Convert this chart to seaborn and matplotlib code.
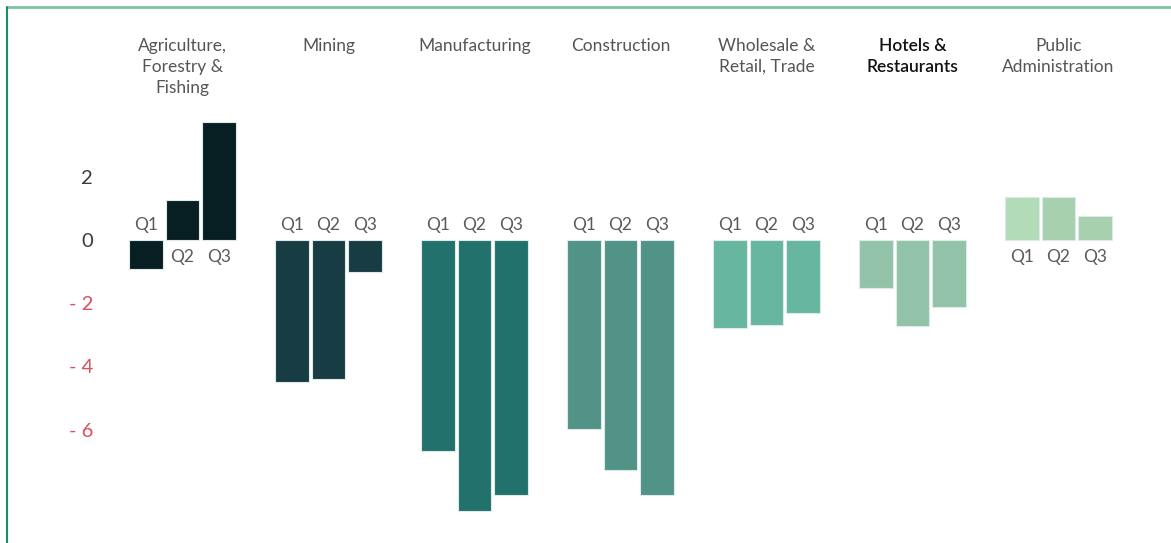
import matplotlib
matplotlib.use("Agg")
import matplotlib.pyplot as plt
from matplotlib.lines import Line2D
import pandas as pd
import seaborn as sns

# Quarterly change by sector
sectors = ["Agriculture,\nForestry &\nFishing", "Mining", "Manufacturing", "Construction",
           "Wholesale &\nRetail, Trade", "Hotels &\nRestaurants", "Public\nAdministration"]
quarters = ["Q1", "Q2", "Q3"]
q1 = [-0.92, -4.49, -6.68, -5.98, -2.78, -1.52, 1.36]
q2 = [1.27, -4.40, -8.58, -7.28, -2.69, -2.72, 1.36]
q3 = [3.73, -1.01, -8.07, -8.07, -2.31, -2.12, 0.76]

sector_colors = ["#071F22", "#173C44", "#22716D", "#529387", "#66B6A0", "#92C3A8", "#A6D0AE"]
public_q1_color = "#B2DCB8"

ytick_vals = [2, 0, -2, -4, -6]
ytick_text = ["2", "0", "- 2", "- 4", "- 6"]

rows = []
for i, sec in enumerate(sectors):
    for j, (q, v) in enumerate(zip(quarters, (q1[i], q2[i], q3[i]))):
        tone = f"s{i}"
        if i == len(sectors) - 1 and j == 0:
            tone = "public_q1"
        rows.append({"sector": sec, "quarter": q, "value": v, "pos": i * 4 + j, "tone": tone})
df = pd.DataFrame(rows)

palette = {f"s{i}": c for i, c in enumerate(sector_colors)}
palette["public_q1"] = public_q1_color

sns.set_theme(style="white")
plt.rcParams["font.family"] = ["Lato", "DejaVu Sans"]

W, H = 1171, 543
fig = plt.figure(figsize=(W / 100, H / 100), dpi=100)
ax_left_px = 100
ax = fig.add_axes([ax_left_px / W, 0, 1 - ax_left_px / W, 1])

sns.barplot(data=df, x="pos", y="value", hue="tone", palette=palette, native_scale=True,
            dodge=False, width=0.93, errorbar=None, legend=False, saturation=1,
            edgecolor="#dcebe7", linewidth=0.8, ax=ax)

slot_px = 36.5
x0_px = 146.0
px_per_unit = 31.6
zero_px = 240.0
ax.set_xlim((ax_left_px - x0_px) / slot_px, (W - x0_px) / slot_px)
ax.set_ylim(-(H - zero_px) / px_per_unit, zero_px / px_per_unit)

for s in ax.spines.values():
    s.set_visible(False)
ax.set_xticks([])
ax.set_xlabel("")
ax.set_ylabel("")
ax.set_yticks(ytick_vals)
ax.set_yticklabels(ytick_text, fontsize=14.5)
ax.tick_params(axis="y", length=0, pad=5)
for lab, v in zip(ax.get_yticklabels(), ytick_vals):
    lab.set_color("#D9505E" if v < 0 else "#3a3a3a")

# Quarter labels: above the baseline for negative bars, below for positive
for _, r in df.iterrows():
    y = 0.46 if r["value"] < 0 else -0.54
    ax.text(r["pos"], y, r["quarter"], ha="center", va="center",
            fontsize=12.5, color="#5a5a5a")

# Sector headings
title_y = (zero_px - 38) / px_per_unit
for i, sec in enumerate(sectors):
    strong = sec.startswith("Hotels")
    ax.text(i * 4 + 1, title_y, sec, ha="center", va="top", fontsize=12.5,
            linespacing=1.38, color="#111111" if strong else "#555555",
            fontweight="semibold" if strong else "normal")

# Frame accents
fig.add_artist(Line2D([7 / W, 1], [1 - 7 / H, 1 - 7 / H], transform=fig.transFigure,
                      color="#7DC4A0", linewidth=2))
fig.add_artist(Line2D([7 / W, 7 / W], [0, 1 - 7 / H], transform=fig.transFigure,
                      color="#1A9060", linewidth=1.5))

fig.savefig("out.png", dpi=100, facecolor="white")
